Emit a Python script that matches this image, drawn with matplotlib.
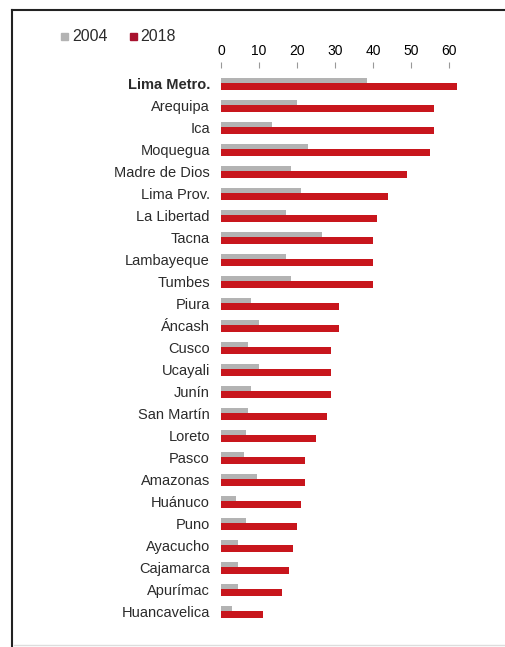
import numpy as np
import matplotlib.pyplot as plt
from matplotlib.lines import Line2D
from matplotlib.patches import Rectangle

# regions, ordered by 2018 value
regions = ["Lima Metro.", "Arequipa", "Ica", "Moquegua", "Madre de Dios",
           "Lima Prov.", "La Libertad", "Tacna", "Lambayeque", "Tumbes",
           "Piura", "Áncash", "Cusco", "Ucayali", "Junín", "San Martín",
           "Loreto", "Pasco", "Amazonas", "Huánuco", "Puno", "Ayacucho",
           "Cajamarca", "Apurímac", "Huancavelica"]
vals_2004 = [38.5, 20, 13.5, 23, 18.5, 21, 17, 26.5, 17, 18.5,
             8, 10, 7, 10, 8, 7, 6.5, 6, 9.5, 4, 6.5, 4.5, 4.5, 4.5, 3]
vals_2018 = [62, 56, 56, 55, 49, 44, 41, 40, 40, 40,
             31, 31, 29, 29, 29, 28, 25, 22, 22, 21, 20, 19, 18, 16, 11]
ticks = [0, 10, 20, 30, 40, 50, 60]

GRAY = "#b3b3b3"
RED = "#c8161d"
TXT = "#2b2b2b"

plt.rcParams['font.family'] = ['Liberation Sans', 'DejaVu Sans']

W, H = 506, 647
fig = plt.figure(figsize=(W / 100, H / 100), dpi=100)

n = len(regions)
y = np.arange(n)
# 22 px per row
top_px, bot_px = 72.5, 72.5 + n * 22.0
ax = fig.add_axes([221 / W, 1 - bot_px / H, 266 / W, (bot_px - top_px) / H])

ax.barh(y - 0.12, vals_2004, height=0.25, color=GRAY, zorder=2)
ax.barh(y + 0.14, vals_2018, height=0.31, color=RED, zorder=3)

ax.set_xlim(0, 70)
ax.set_ylim(n - 0.5, -0.5)

ax.set_yticks(y)
ax.set_yticklabels(regions, fontsize=10.5, color=TXT)
ax.get_yticklabels()[0].set_fontweight('bold')
ax.tick_params(axis='y', length=0, pad=8)

ax.xaxis.tick_top()
ax.set_xticks(ticks)
ax.set_xticklabels([str(t) for t in ticks], fontsize=9.5, color="#555555",
                   fontstyle='italic')
ax.tick_params(axis='x', direction='out', length=4.5, width=0.8,
               color="#999999", pad=3)
for s in ax.spines.values():
    s.set_visible(False)
ax.spines['top'].set_position(('outward', 3))
ax.patch.set_alpha(0)

# legend drawn by hand, above the region labels
ly = 1 - 36.5 / H
sq_w, sq_h = 7 / W, 7 / H
fig.add_artist(Rectangle((61.5 / W, ly - sq_h / 2), sq_w, sq_h,
                         transform=fig.transFigure, color=GRAY))
fig.text(72 / W, ly, "2004", fontsize=11.5, color=TXT, va='center')
fig.add_artist(Rectangle((130 / W, ly - sq_h / 2), sq_w, sq_h,
                         transform=fig.transFigure, color="#a8122e"))
fig.text(140 / W, ly, "2018", fontsize=11.5, color=TXT, va='center')

# frame around the graphic
fig.add_artist(Line2D([12 / W, 1], [1 - 10 / H, 1 - 10 / H], color="#222222", lw=1.5))
fig.add_artist(Line2D([12 / W, 12 / W], [0, 1 - 10 / H], color="#222222", lw=1.5))
fig.add_artist(Line2D([14 / W, 1], [2 / H, 2 / H], color="#dddddd", lw=1.0))

fig.savefig("out.png", dpi=100)
